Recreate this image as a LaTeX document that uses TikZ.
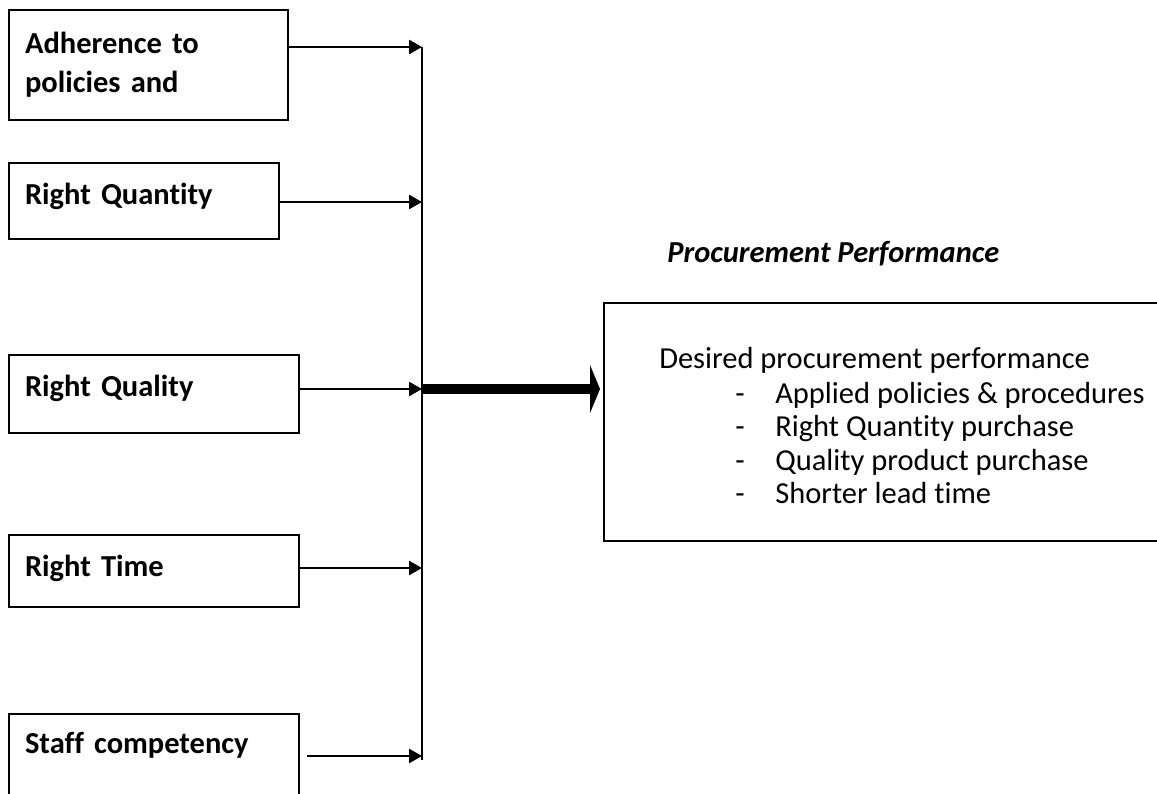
\documentclass[tikz,border=0pt]{standalone}
\usepackage{fontspec}
\setmainfont{Carlito}[Ligatures=NoCommon]
\usetikzlibrary{arrows.meta,positioning,calc}

\tikzset{
  factor/.style={draw,line width=1.5pt,anchor=north west,inner xsep=0.4cm,inner ysep=0pt,
    align=left,font=\bfseries\fontsize{21.7}{27.7}\selectfont},
  feed/.style={line width=1.5pt,-{Triangle[length=9.2pt,width=10pt]}},
  plain/.style={inner sep=0pt,anchor=base west,font=\fontsize{21.7}{26}\selectfont}
}

\begin{document}
\begin{tikzpicture}
\useasboundingbox (0,0) rectangle (28.925,-19.825);
\clip (0,0) rectangle (28.925,-19.825);

% the five factors on the left
\node[factor,text width=6.175cm,minimum height=2.75cm] (adh) at (0.2,-0.225) {Adherence to\\policies and};
\node[factor,text width=5.95cm,minimum height=1.9cm,text height=0.55cm,text depth=0.4cm] (qty) at (0.2,-4.05) {Right Quantity};
\node[factor,text width=6.45cm,minimum height=1.95cm,text height=0.55cm,text depth=0.45cm] (qual) at (0.2,-8.85) {Right Quality};
\node[factor,text width=6.45cm,minimum height=1.8cm,text height=0.55cm,text depth=0.3cm] (time) at (0.2,-13.35) {Right Time};
\node[factor,text width=6.45cm,minimum height=2.25cm,text height=0.55cm,text depth=0.85cm] (staff) at (0.2,-17.825) {Staff competency};

% collecting line
\coordinate (bus1) at (10.55,-1.175);
\coordinate (bus2) at (10.55,-5.05);
\coordinate (bus3) at (10.55,-9.725);
\coordinate (bus4) at (10.55,-14.2);
\coordinate (bus5) at (10.55,-18.9);
\coordinate (busend) at (10.55,-19.0);
\draw[line width=1.6pt] (bus1) -- (busend);

\draw[feed] (adh.east |- bus1) -- (bus1);
\draw[feed] (qty.east |- bus2) -- (bus2);
\draw[feed] (qual.east |- bus3) -- (bus3);
\draw[feed] (time.east |- bus4) -- (bus4);
\draw[feed] ([xshift=0.175cm]staff.east |- bus5) -- (bus5);

% outcome
\node[plain,font=\bfseries\itshape\fontsize{21.7}{26}\selectfont] (head) at (16.675,-6.55) {Procurement Performance};
\node[draw,line width=1.5pt,anchor=north west,minimum width=14.425cm,minimum height=5.95cm] (want) at (15.075,-7.55) {};
\node[plain] (desired) at (16.475,-9.2) {Desired procurement performance};
\foreach \txt [count=\k] in {Applied policies \& procedures,Right Quantity purchase,Quality product purchase,Shorter lead time}{
  \node[plain] (dash\k) at (18.375,{-10.075-0.8375*(\k-1)}) {-};
  \node[plain] (item\k) at (19.375,{-10.075-0.8375*(\k-1)}) {\txt};
}

\draw[line width=6.5pt,-{Triangle[length=7.1pt,width=34pt]},shorten >=0.075cm] (bus3) -- (want.west |- bus3);
\end{tikzpicture}
\end{document}
